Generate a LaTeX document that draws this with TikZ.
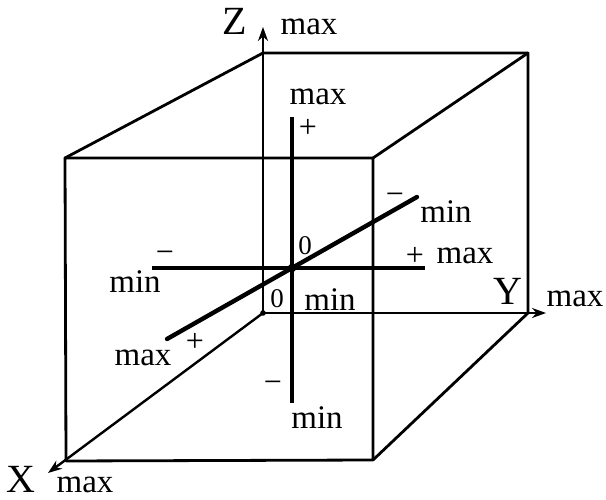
\documentclass[tikz,border=0pt]{standalone}
\usepackage{fontspec}
\setmainfont{Liberation Serif}
\usetikzlibrary{arrows.meta}
\begin{document}
\begin{tikzpicture}[x=1pt,y=-1pt,
  edge/.style={line width=2.8pt,line cap=round,line join=round},
  axisarrow/.style={line width=2.4pt,-{Stealth[length=14pt,width=10pt]}},
  innerline/.style={line width=4.4pt},
  lbl/.style={font=\fontsize{33}{36}\selectfont,inner sep=0pt,anchor=base},
  big/.style={font=\fontsize{40}{44}\selectfont,inner sep=0pt,anchor=base},
  sgn/.style={font=\fontsize{32}{36}\selectfont,inner sep=0pt},
  zero/.style={font=\fontsize{27}{30}\selectfont,inner sep=0pt,anchor=base}]
\useasboundingbox (0,0) rectangle (606,500);
% corners
\coordinate (O) at (263,313);
\coordinate (Zt) at (263,27);
\coordinate (Yt) at (546,313);
\coordinate (Xt) at (48,473);
\coordinate (B1) at (263,53);
\coordinate (B2) at (528,53);
\coordinate (B3) at (528,313);
\coordinate (F1) at (65,158);
\coordinate (F2) at (373,158);
\coordinate (F3) at (373,460);
\coordinate (F4) at (66,461);
% cube
\draw[edge] (F1) -- (F2) -- (F3) -- (F4) -- cycle;
\draw[edge] (F1) -- (B1) -- (B2) -- (B3);
\draw[edge] (F2) -- (B2);
\draw[edge] (F3) -- (B3);
% main axes
\draw[axisarrow] (O) -- (Zt);
\draw[axisarrow] (O) -- (Yt);
\draw[axisarrow] (O) -- (Xt);
\fill (O) circle (2.8pt);
% inner cross
\coordinate (C) at (292,268);
\coordinate (Vt) at (292,117);
\coordinate (Vb) at (292,403);
\coordinate (Hl) at (152,268);
\coordinate (Hr) at (425,268);
\coordinate (Dl) at (167,339);
\coordinate (Dr) at (417,197);
\draw[innerline] (Vt) -- (Vb);
\draw[innerline] (Hl) -- (Hr);
\draw[innerline,line cap=round] (Dl) -- (Dr);
\fill (C) circle (4.2pt);
% labels
\node[big] (zl) at (235,35) {Z};
\node[lbl] (zmax) at (309,35) {max};
\node[lbl] (vmax) at (318,105) {max};
\node[sgn] (vplus) at (308,128) {+};
\node[sgn] (dminus) at (395,199) {−};
\node[lbl] (dmin) at (446,223) {min};
\node[sgn] (hplus) at (415,256) {+};
\node[lbl] (hmax) at (465,264) {max};
\node[sgn] (hminus) at (165,257) {−};
\node[lbl] (hmin) at (135,293) {min};
\node[zero] (c0) at (305,255) {0};
\node[zero] (o0) at (277,308) {0};
\node[lbl] (omin) at (330,310) {min};
\node[sgn] (dplus) at (195,342) {+};
\node[lbl] (dmax) at (143,365) {max};
\node[sgn] (vminus) at (273,387) {−};
\node[lbl] (vmin) at (317,428) {min};
\node[big] (yl) at (508,305) {Y};
\node[lbl] (ymax) at (575,307) {max};
\node[big] (xl) at (21,492) {X};
\node[lbl] (xmax) at (85,492) {max};
\end{tikzpicture}
\end{document}
